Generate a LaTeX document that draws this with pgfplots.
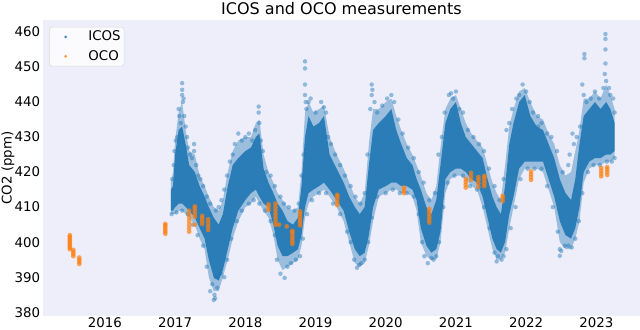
\documentclass[border=0pt]{standalone}
\usepackage{fontspec}
\setmainfont{DejaVu Sans}
\usepackage{pgfplots}
\usepackage{pgfplotstable}
\pgfplotsset{compat=1.18}
\usepgfplotslibrary{fillbetween}

\definecolor{icos}{RGB}{31,119,180}
\definecolor{oco}{RGB}{255,127,14}
\definecolor{bgc}{RGB}{238,238,251}

% ICOS cloud: time, dense core (up, lo), sparse fringe (oup, olo)
\pgfplotstableread{
t       up  lo  oup olo
2016.94 415 409 417 408
2016.97 416 409 420 408
2017.00 425 410 429 408
2017.05 432 411 437 409
2017.10 433 411 440 409
2017.15 428 410 432 408
2017.20 422 409 426 407
2017.28 420 407 425 405
2017.35 416 404 419 401
2017.42 413 401 416 398
2017.48 410 395 413 390
2017.55 407 390 410 386
2017.62 405 389 409 386
2017.68 408 392 412 390
2017.75 416 398 420 395
2017.82 422 404 426 401
2017.90 424 409 429 406
2018.00 426 412 430 410
2018.08 427 414 430 411
2018.15 430 415 434 413
2018.20 431 413 435 411
2018.26 421 411 425 409
2018.33 417 410 420 407
2018.40 414 405 417 402
2018.46 411 399 414 395
2018.53 409 396 412 392
2018.60 406 396 410 393
2018.68 405 397 409 394
2018.75 407 398 410 395
2018.80 416 402 420 399
2018.85 430 410 437 407
2018.90 436 414 440 411
2018.97 433 415 437 413
2019.05 434 416 438 414
2019.12 436 417 439 415
2019.20 425 415 430 413
2019.30 421 412 425 410
2019.40 417 409 421 406
2019.48 413 403 417 400
2019.56 410 398 413 394
2019.63 408 396 411 393
2019.70 410 397 414 394
2019.76 422 402 428 399
2019.82 432 410 438 406
2019.90 434 415 438 413
2020.00 436 416 440 414
2020.08 438 417 441 415
2020.15 432 417 436 415
2020.22 428 416 432 414
2020.30 424 416 428 414
2020.38 422 415 425 413
2020.44 418 412 422 409
2020.50 415 404 419 400
2020.58 410 399 414 396
2020.65 408 397 412 395
2020.72 412 398 416 395
2020.78 422 403 427 400
2020.85 434 418 438 414
2020.92 438 420 441 418
2021.00 440 421 442 419
2021.07 434 421 438 419
2021.14 430 420 434 418
2021.22 428 418 431 416
2021.30 426 417 429 415
2021.38 424 413 427 410
2021.45 418 407 422 404
2021.52 413 401 417 398
2021.58 410 398 414 395
2021.64 408 397 412 395
2021.70 416 400 422 397
2021.76 428 408 433 404
2021.82 434 413 438 410
2021.90 440 421 443 418
2021.98 442 423 444 421
2022.06 436 423 440 421
2022.15 433 423 436 421
2022.24 432 423 435 420
2022.32 428 418 431 415
2022.40 424 413 428 410
2022.48 418 406 422 400
2022.56 414 402 419 398
2022.64 412 401 420 398
2022.70 418 404 426 401
2022.76 428 410 432 406
2022.82 436 420 441 417
2022.90 438 423 441 421
2022.98 440 424 443 422
2023.06 438 424 441 422
2023.14 440 425 445 423
2023.20 438 425 442 423
2023.26 434 426 438 424
}\envtab

% scattered ICOS points outside the core
\pgfplotstableread{
t y
2016.96 418
2016.98 422
2016.99 426
2017.01 429
2017.03 430
2017.05 438
2017.06 436
2017.08 434
2017.10 445.4
2017.10 443.5
2017.10 442
2017.11 440
2017.12 441
2017.13 436
2017.15 433
2017.17 430
2017.18 427
2017.21 425
2017.24 424
2017.27 428
2017.27 426
2017.30 422
2017.33 419
2017.36 418
2017.40 416
2017.45 413
2017.50 411
2017.58 409
2017.62 410
2017.66 412
2017.70 415
2017.74 419
2017.78 423
2017.82 425
2017.85 428
2017.90 431
2017.95 429
2018.00 430
2018.05 431
2018.10 429
2018.14 432
2018.19 438.7
2018.19 437
2018.20 434
2018.22 429
2018.25 426
2018.30 420
2018.36 419
2018.42 416
2018.50 413
2018.55 411
2018.62 410
2018.70 409
2018.76 411
2018.80 419
2018.83 425
2018.85 451.6
2018.85 449.6
2018.85 445
2018.85 442
2018.86 440
2018.87 438
2018.90 440
2018.93 441
2019.00 437
2019.08 440
2019.12 438.5
2019.15 437
2019.18 430
2019.22 428
2019.28 425
2019.35 422
2019.42 419
2019.50 416
2019.57 413
2019.64 411
2019.70 414
2019.74 425
2019.78 438
2019.80 445
2019.80 442
2019.81 443.5
2019.84 440
2019.88 437
2019.95 439
2020.02 441
2020.08 442
2020.12 440
2020.18 435
2020.24 431
2020.32 427
2020.40 424
2020.47 420
2020.54 417
2020.62 412
2020.70 414
2020.75 425
2020.80 430
2020.84 437
2020.90 442
2020.93 442.5
2020.96 441
2021.00 443
2021.05 438
2021.10 437
2021.17 432
2021.25 430
2021.33 428
2021.40 426
2021.47 421
2021.55 416
2021.62 412
2021.68 418
2021.72 432
2021.76 434
2021.80 438
2021.86 441
2021.90 442
2021.95 445
2022.00 443
2022.05 440
2022.10 437
2022.17 436
2022.17 433
2022.22 434
2022.30 431
2022.36 430
2022.44 426
2022.52 420
2022.60 422
2022.62 425
2022.66 431
2022.68 428
2022.72 430
2022.77 433
2022.80 445
2022.82 442
2022.83 453.7
2022.83 452.5
2022.86 440
2022.92 441
2022.98 443
2023.04 441
2023.10 444
2023.12 448
2023.13 459.4
2023.13 458
2023.13 455
2023.13 451
2023.14 446
2023.18 444
2023.20 442
2023.24 441
2023.26 437
2016.95 408
2017.02 408.5
2017.10 409
2017.18 408
2017.25 405
2017.32 402
2017.40 399
2017.45 393
2017.50 386
2017.53 388
2017.55 383.5
2017.56 385
2017.57 384
2017.58 390
2017.60 387
2017.65 391
2017.70 390
2017.74 395
2017.80 401
2017.88 406
2017.95 409
2018.05 411
2018.12 412
2018.20 411
2018.28 409
2018.36 406
2018.42 402
2018.45 395
2018.50 391
2018.56 389.8
2018.60 393
2018.65 394
2018.72 395
2018.78 396
2018.82 401
2018.88 408
2018.95 412
2019.05 414
2019.15 414
2019.25 411
2019.35 408
2019.45 403
2019.50 400
2019.55 395
2019.59 392.7
2019.62 393.5
2019.65 394
2019.70 395
2019.75 400
2019.80 407
2019.88 413
2020.00 414
2020.10 415
2020.20 414
2020.30 414
2020.40 413
2020.47 408
2020.52 400
2020.55 396
2020.60 394
2020.65 395.5
2020.68 395
2020.72 396
2020.76 400
2020.82 410
2020.88 417
2020.98 419
2021.10 419
2021.20 416
2021.30 415
2021.40 410
2021.48 404
2021.55 397
2021.58 394.5
2021.60 396
2021.65 395
2021.68 396
2021.72 398
2021.78 404
2021.85 410
2021.92 418
2022.02 421
2022.12 421
2022.22 421
2022.30 416
2022.38 410
2022.45 403
2022.48 396.1
2022.48 398
2022.50 397.5
2022.55 399
2022.60 399
2022.65 398.5
2022.70 401
2022.75 406
2022.80 414
2022.88 420
2022.96 422
2023.05 422
2023.15 423
2023.22 423
2023.26 424
}\icostab

% OCO retrievals
\pgfplotstableread{
t y
2015.50 398.0
2015.50 398.5
2015.50 399.0
2015.50 399.5
2015.50 400.0
2015.50 400.5
2015.50 401.0
2015.50 401.5
2015.50 402.0
2015.55 396.0
2015.55 396.6
2015.55 397.2
2015.55 397.8
2015.635 393.8
2015.635 394.4
2015.635 395.0
2015.635 395.6
2016.86 402.4
2016.86 403.0
2016.86 403.6
2016.86 404.2
2016.86 404.8
2016.86 405.2
2017.20 403.0
2017.20 404.0
2017.20 405.0
2017.20 406.0
2017.20 407.0
2017.20 408.0
2017.20 409.0
2017.28 405.0
2017.28 407.2
2017.28 408.0
2017.28 408.8
2017.28 409.6
2017.28 410.2
2017.385 405.2
2017.385 406.0
2017.385 406.8
2017.385 407.5
2017.47 403.5
2017.47 404.5
2017.47 405.5
2017.47 406.5
2018.33 409.2
2018.33 410.0
2018.33 410.8
2018.43 405.0
2018.43 406.0
2018.43 407.0
2018.43 408.0
2018.43 409.0
2018.43 410.0
2018.43 411.0
2018.48 405.0
2018.59 404.5
2018.67 399.5
2018.67 400.3
2018.67 401.1
2018.67 401.9
2018.67 402.7
2018.67 403.2
2018.78 404.8
2018.78 405.6
2018.78 406.4
2018.78 407.2
2018.78 408.0
2018.78 408.8
2019.31 410.6
2019.31 411.4
2019.31 412.2
2019.31 413.0
2019.31 413.5
2020.26 414.0
2020.26 414.8
2020.26 415.6
2020.62 405.6
2020.62 406.4
2020.62 407.2
2020.62 408.0
2020.62 408.8
2020.62 409.5
2021.14 415.6
2021.14 416.4
2021.14 417.2
2021.14 418.0
2021.215 417.8
2021.215 418.8
2021.215 419.8
2021.32 415.8
2021.32 416.8
2021.32 417.8
2021.32 418.6
2021.405 416.0
2021.405 416.8
2021.405 417.6
2021.405 418.4
2021.405 418.9
2021.665 411.7
2021.665 412.5
2021.665 413.2
2022.07 417.8
2022.07 418.6
2022.07 419.4
2022.07 420.2
2023.07 418.8
2023.07 419.6
2023.07 420.4
2023.07 421.2
2023.155 419.2
2023.155 420.0
2023.155 420.8
2023.155 421.4
}\ocotab

\begin{document}
\begin{tikzpicture}
\begin{axis}[
  scale only axis, width=424.8pt, height=211pt,
  xmin=2015.12, xmax=2023.62, ymin=378.9, ymax=463.5,
  xtick={2016,2017,...,2023}, ytick={380,390,...,460},
  /pgf/number format/1000 sep={},
  /pgf/number format/assume math mode=true,
  tick label style={font=\fontsize{9.5}{11}\selectfont},
  yticklabel style={inner xsep=2pt},
  xticklabel style={inner ysep=1pt},
  major tick length=0pt,
  axis line style={draw=none},
  axis background/.style={fill=bgc},
  title={ICOS and OCO measurements},
  title style={font=\fontsize{11.4}{13}\selectfont, inner sep=2pt, yshift=-5pt},
  ylabel={CO2 (ppm)},
  ylabel style={font=\fontsize{9.5}{11}\selectfont, inner sep=1pt, yshift=-3pt},
  legend style={at={(0.01,0.976)}, anchor=north west, draw=black!15,
    rounded corners=2pt, fill=white, fill opacity=0.8, text opacity=1, draw opacity=1,
    font=\fontsize{9.5}{11}\selectfont, row sep=1.3pt, inner xsep=0.5pt, inner ysep=0.7pt},
  legend cell align=left,
]
\addplot[name path=OU, draw=none, forget plot] table[x=t, y=oup] {\envtab};
\addplot[name path=OL, draw=none, forget plot] table[x=t, y=olo] {\envtab};
\addplot[fill=icos, fill opacity=0.4, draw=none, forget plot] fill between[of=OU and OL];
\addplot[name path=U, draw=none, forget plot] table[x=t, y=up] {\envtab};
\addplot[name path=L, draw=none, forget plot] table[x=t, y=lo] {\envtab};
\addplot[fill=icos, fill opacity=0.9, draw=none, forget plot] fill between[of=U and L];
\addplot[only marks, mark=*, mark size=1.6pt, color=icos, mark options={draw opacity=0, fill opacity=0.45}, forget plot] table[x=t, y=y] {\icostab};
\addplot[only marks, mark=*, mark size=1.7pt, color=oco, mark options={draw opacity=0, fill opacity=0.7}, forget plot] table[x=t, y=y] {\ocotab};
\addlegendimage{legend image code/.code={\path[draw=none, fill=none] (0cm,-0.1cm) rectangle (0.89cm,0.1cm); \fill[icos, draw=none] (0.39cm,0cm) circle (1.1pt);}}
\addlegendentry{ICOS}
\addlegendimage{legend image code/.code={\path[draw=none, fill=none] (0cm,-0.1cm) rectangle (0.89cm,0.1cm); \fill[oco, draw=none] (0.39cm,0cm) circle (1.1pt);}}
\addlegendentry{OCO}
\end{axis}
\end{tikzpicture}
\end{document}
